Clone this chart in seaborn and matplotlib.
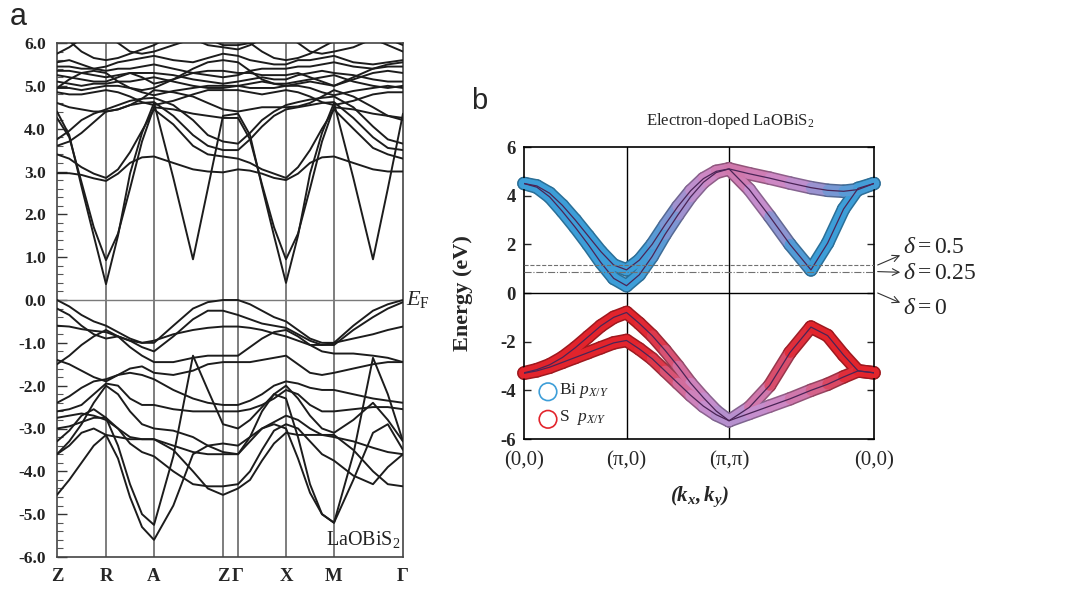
import numpy as np
import pandas as pd
import matplotlib
matplotlib.use("Agg")
import matplotlib.pyplot as plt
from matplotlib.collections import LineCollection
from matplotlib.colors import LinearSegmentedColormap
from matplotlib.ticker import MultipleLocator, FormatStrFormatter
import seaborn as sns

# ---------------- panel a: LaOBiS2, path Z-R-A-Z-Γ-X-M-Γ ----------------
path_a_labels = ["Z", "R", "A", "Z", "Γ", "X", "M", "Γ"]
path_a_k = [0, 49, 97, 166, 181, 229, 277, 346]
seg_fracs_a = [[0, .25, .5, .75], [0, .25, .5, .75], [0, .28, .565, .78], [0],
               [0, .25, .5, .75], [0, .25, .5, .75], [0, .28, .565, .78]]

# energies (eV) at the sampled k points, one row per band
cond_bands = [
    [4.40, 3.85, 2.65, 1.50, 0.37, 1.50, 2.95, 3.90, 4.60, 2.85, 0.95, 2.60, 4.30,
     4.35, 3.85, 2.65, 1.50, 0.40, 1.50, 2.95, 3.90, 4.60, 2.85, 0.95, 2.60, 4.35],
    [4.25, 3.80, 2.75, 1.70, 0.93, 1.55, 2.60, 3.70, 4.50, 4.45, 4.35, 4.30, 4.25,
     4.25, 3.75, 2.70, 1.70, 0.95, 1.55, 2.60, 3.70, 4.50, 4.45, 4.35, 4.30, 4.25],
    [2.96, 2.96, 2.92, 2.84, 2.78, 2.95, 3.20, 3.33, 3.35, 3.20, 3.05, 3.00, 2.98,
     3.05, 3.02, 2.95, 2.85, 2.80, 2.95, 3.20, 3.33, 3.35, 3.20, 3.05, 3.00, 3.00],
    [3.40, 3.30, 3.10, 2.95, 2.85, 3.05, 3.45, 3.95, 4.45, 4.10, 3.60, 3.40, 3.35,
     3.30, 3.20, 3.05, 2.95, 2.85, 3.10, 3.50, 4.00, 4.45, 4.00, 3.55, 3.40, 3.30],
    [3.60, 3.70, 3.90, 4.15, 4.40, 4.45, 4.55, 4.60, 4.62, 4.30, 3.85, 3.60, 3.50,
     3.50, 3.75, 4.05, 4.30, 4.45, 4.50, 4.55, 4.60, 4.62, 4.25, 3.80, 3.55, 3.50],
    [3.75, 3.95, 4.20, 4.35, 4.45, 4.55, 4.65, 4.70, 4.72, 4.55, 4.20, 3.85, 3.70,
     3.65, 3.90, 4.20, 4.40, 4.55, 4.62, 4.68, 4.72, 4.75, 4.50, 4.05, 3.75, 3.65],
]

upper_bands = [
    [4.85, 4.80, 4.80, 4.85, 4.90, 4.85, 4.75, 4.62, 4.55, 4.65, 4.80, 4.90, 4.90,
     4.90, 4.85, 4.80, 4.85, 4.90, 4.85, 4.75, 4.62, 4.55, 4.65, 4.80, 4.85, 4.85],
    [4.95, 4.95, 4.90, 4.95, 5.00, 5.00, 4.95, 4.85, 4.78, 4.88, 4.95, 5.00, 5.00,
     5.00, 4.95, 4.95, 4.95, 5.00, 5.00, 4.95, 4.85, 4.78, 4.88, 4.95, 5.00, 4.95],
    [5.10, 5.05, 5.00, 5.05, 5.05, 5.10, 5.10, 5.15, 5.20, 5.10, 5.00, 4.95, 4.95,
     5.00, 5.05, 5.10, 5.05, 5.05, 5.10, 5.15, 5.20, 5.25, 5.10, 5.00, 4.95, 5.00],
    [5.25, 5.20, 5.15, 5.10, 5.10, 5.20, 5.30, 5.30, 5.30, 5.25, 5.15, 5.10, 5.05,
     5.10, 5.15, 5.20, 5.15, 5.15, 5.25, 5.30, 5.35, 5.30, 5.25, 5.15, 5.10, 5.10],
    [5.35, 5.35, 5.30, 5.25, 5.20, 5.25, 5.30, 5.20, 5.05, 5.15, 5.30, 5.35, 5.35,
     5.30, 5.30, 5.25, 5.25, 5.25, 5.30, 5.20, 5.10, 5.00, 5.15, 5.30, 5.35, 5.30],
    [5.45, 5.45, 5.40, 5.40, 5.35, 5.40, 5.40, 5.45, 5.50, 5.40, 5.30, 5.25, 5.20,
     5.25, 5.35, 5.40, 5.40, 5.40, 5.45, 5.45, 5.50, 5.55, 5.45, 5.40, 5.45, 5.45],
    [4.60, 4.50, 4.45, 4.40, 4.40, 4.45, 4.55, 4.70, 4.90, 4.85, 4.75, 4.60, 4.45,
     4.40, 4.45, 4.50, 4.50, 4.50, 4.52, 4.60, 4.75, 4.90, 4.75, 4.50, 4.30, 4.20],
    [5.75, 5.90, 6.10, 6.20, 6.20, 6.00, 5.80, 5.75, 5.80, 5.95, 6.10, 5.95, 5.90,
     5.85, 5.95, 6.10, 6.20, 6.20, 6.00, 5.80, 5.75, 5.80, 5.90, 6.10, 5.95, 5.80],
    [6.30, 6.05, 5.80, 5.65, 5.60, 5.65, 5.75, 5.85, 5.95, 6.20, 6.30, 6.10, 5.95,
     5.95, 6.00, 5.80, 5.65, 5.60, 5.65, 5.75, 5.90, 6.05, 6.30, 6.30, 6.10, 5.95],
    [4.95, 5.15, 5.30, 5.35, 5.30, 5.10, 4.95, 4.90, 4.95, 5.15, 5.40, 5.55, 5.60,
     5.55, 5.35, 5.15, 5.05, 5.00, 5.05, 5.10, 5.05, 5.00, 5.20, 5.40, 5.50, 5.55],
    [5.55, 5.60, 5.50, 5.40, 5.45, 5.55, 5.60, 5.65, 5.70, 5.60, 5.55, 5.65, 5.75,
     5.70, 5.60, 5.55, 5.50, 5.50, 5.60, 5.60, 5.65, 5.70, 5.55, 5.50, 5.55, 5.60],
]

valence_bands = [
    [0.00, -0.15, -0.35, -0.50, -0.60, -0.75, -0.90, -1.00, -1.00, -0.60, -0.20, -0.05, 0.00,
     0.00, -0.10, -0.25, -0.40, -0.50, -0.70, -0.90, -1.00, -1.00, -0.60, -0.25, -0.10, 0.00],
    [-0.20, -0.35, -0.60, -0.80, -0.90, -0.85, -0.95, -1.10, -1.20, -0.85, -0.45, -0.25, -0.25,
     -0.35, -0.45, -0.55, -0.60, -0.65, -0.80, -0.95, -1.05, -1.05, -0.70, -0.40, -0.20, -0.05],
    [-0.60, -0.62, -0.68, -0.72, -0.75, -0.85, -0.95, -1.00, -0.95, -0.80, -0.70, -0.65, -0.62,
     -0.62, -0.65, -0.70, -0.78, -0.85, -0.95, -1.05, -1.05, -1.00, -0.90, -0.80, -0.70, -0.62],
    [-1.40, -1.50, -1.65, -1.80, -1.90, -1.75, -1.60, -1.55, -1.70, -1.75, -1.65, -1.50, -1.45,
     -1.45, -1.45, -1.40, -1.35, -1.30, -1.50, -1.70, -1.75, -1.70, -1.60, -1.50, -1.45, -1.45],
    [-1.50, -1.30, -1.05, -0.85, -0.70, -0.85, -1.10, -1.30, -1.45, -1.45, -1.35, -1.30, -1.30,
     -1.30, -1.10, -0.90, -0.75, -0.70, -0.85, -1.05, -1.20, -1.25, -1.25, -1.30, -1.35, -1.45],
    [-2.40, -2.25, -2.05, -1.90, -1.85, -1.75, -1.70, -1.75, -1.85, -2.10, -2.30, -2.40, -2.45,
     -2.45, -2.35, -2.20, -2.00, -1.90, -1.95, -2.05, -2.10, -2.10, -2.20, -2.30, -2.35, -2.40],
    [-2.60, -2.55, -2.45, -2.20, -1.95, -2.00, -2.30, -2.45, -2.45, -2.55, -2.60, -2.60, -2.60,
     -2.60, -2.55, -2.45, -2.30, -2.10, -2.20, -2.45, -2.60, -2.60, -2.55, -2.50, -2.50, -2.55],
    [-2.75, -2.70, -2.65, -2.70, -2.80, -3.00, -3.20, -3.25, -3.25, -3.40, -3.55, -3.60, -3.60,
     -3.60, -3.30, -3.00, -2.85, -2.70, -2.80, -3.00, -3.15, -3.20, -3.30, -3.45, -3.55, -3.60],
    [-3.30, -3.05, -2.70, -2.55, -2.75, -3.40, -4.30, -5.00, -5.25, -3.65, -1.30, -2.10, -2.90,
     -3.00, -2.80, -2.50, -2.20, -2.30, -3.20, -4.30, -5.00, -5.20, -3.60, -1.35, -2.20, -3.30],
    [-3.60, -3.40, -3.10, -3.00, -3.15, -3.70, -4.60, -5.30, -5.60, -4.80, -3.60, -3.40, -3.35,
     -3.40, -3.20, -3.00, -2.90, -3.00, -3.70, -4.50, -5.00, -5.20, -4.20, -3.10, -2.90, -3.50],
    [-4.55, -4.20, -3.80, -3.40, -3.15, -3.20, -3.25, -3.25, -3.25, -3.50, -4.00, -4.40, -4.55,
     -4.40, -4.20, -3.75, -3.35, -3.10, -3.15, -3.15, -3.15, -3.15, -3.50, -4.00, -4.30, -4.35],
    [-3.00, -2.95, -2.85, -2.75, -2.75, -3.00, -3.35, -3.55, -3.65, -4.00, -4.30, -4.35, -4.35,
     -4.30, -4.00, -3.50, -3.05, -2.90, -3.00, -3.30, -3.60, -3.75, -4.10, -4.30, -3.90, -3.60],
    [-3.60, -3.30, -2.90, -2.40, -2.00, -2.20, -2.60, -2.90, -3.00, -3.05, -3.20, -3.40, -3.55,
     -3.60, -3.20, -2.60, -2.20, -2.00, -2.30, -2.70, -3.00, -3.10, -2.80, -2.40, -2.80, -3.30],
]

# ---------------- panel b: electron-doped LaOBiS2 model bands ----------------
path_b_labels = ["(0,0)", "(π,0)", "(π,π)", "(0,0)"]
path_b_k = [0.0, 1.0, 2.0, 2.0 + np.sqrt(2.0)]
seg_fracs_b = [[0, .125, .25, .375, .5, .625, .75, .875],
               [0, .125, .25, .375, .5, .625, .75, .875],
               [0, .14, .28, .42, .565, .68, .79, .89]]

cond_1 = [4.50, 4.35, 3.95, 3.35, 2.70, 2.00, 1.25, 0.60,
          0.30, 0.75, 1.50, 2.40, 3.20, 3.95, 4.55, 4.95,
          5.10, 4.25, 3.15, 2.00, 0.95, 2.05, 3.45, 4.30, 4.50]
cond_2 = [4.50, 4.40, 4.10, 3.60, 3.00, 2.35, 1.70, 1.15,
          0.95, 1.35, 2.00, 2.80, 3.55, 4.20, 4.70, 5.00,
          5.10, 4.90, 4.72, 4.52, 4.33, 4.22, 4.18, 4.25, 4.50]
val_1 = [-3.28, -3.15, -2.95, -2.65, -2.25, -1.80, -1.35, -1.00,
         -0.80, -1.25, -1.75, -2.35, -3.00, -3.70, -4.30, -4.85,
         -5.25, -4.70, -3.80, -2.45, -1.40, -1.75, -2.55, -3.20, -3.28]
val_2 = [-3.30, -3.20, -3.05, -2.85, -2.65, -2.45, -2.25, -2.05,
         -1.95, -2.30, -2.70, -3.20, -3.70, -4.20, -4.65, -5.00,
         -5.25, -4.95, -4.65, -4.35, -4.00, -3.75, -3.45, -3.20, -3.28]

# Bi p_X/Y weight of each band (1 = Bi, 0 = S)
cond_1_bi = [1, 1, 1, 1, 1, 1, 1, 1, 1, 1, .95, .85, .7, .6, .5, .45,
             .4, .45, .6, .85, 1, 1, 1, 1, 1]
cond_2_bi = [1, 1, 1, 1, 1, 1, 1, 1, 1, 1, .95, .85, .7, .6, .5, .45,
             .4, .4, .45, .5, .6, .75, .85, .95, 1]
val_1_bi = [0, 0, 0, 0, 0, 0, 0, 0, 0, 0, .05, .15, .3, .4, .5, .55,
            .6, .5, .3, .1, 0, 0, 0, 0, 0]
val_2_bi = [0, 0, 0, 0, 0, 0, 0, 0, 0, 0, .05, .15, .3, .4, .5, .55,
            .6, .55, .5, .45, .35, .25, .1, 0, 0]

doping_levels = [("0.5", 1.15, "--"), ("0.25", 0.88, "-.")]
doping_labels = [r"$\delta = 0.5$", r"$\delta = 0.25$", r"$\delta = 0$"]


def path_grid(points, fracs):
    ks = []
    for i, fr in enumerate(fracs):
        a, b = points[i], points[i + 1]
        ks.extend(a + f * (b - a) for f in fr)
    ks.append(points[-1])
    return np.array(ks)


def long_frame(k, bands, prefix):
    rows = []
    for j, e in enumerate(bands):
        rows.append(pd.DataFrame({"k": k, "E": e, "band": f"{prefix}{j}"}))
    return pd.concat(rows, ignore_index=True)


sns.set_theme(style="white")
plt.rcParams["font.family"] = ["Liberation Serif", "DejaVu Serif"]
plt.rcParams["mathtext.fontset"] = "custom"
plt.rcParams["mathtext.rm"] = "Liberation Serif"
plt.rcParams["mathtext.it"] = "Liberation Serif:italic"
plt.rcParams["mathtext.bf"] = "Liberation Serif:italic:bold"

fig = plt.figure(figsize=(10.73, 5.92), dpi=100)
W, H = 1073, 592
ax_a = fig.add_axes([57 / W, 1 - 557 / H, (403 - 57) / W, (557 - 43) / H])
ax_b = fig.add_axes([524 / W, 1 - 439 / H, (874 - 524) / W, (439 - 147) / H])

# ---- panel a ----
k_a = path_grid(path_a_k, seg_fracs_a)
df_a = pd.concat([long_frame(k_a, cond_bands, "c"),
                  long_frame(k_a, upper_bands, "u"),
                  long_frame(k_a, valence_bands, "v")], ignore_index=True)
for kk in path_a_k[1:-1]:
    ax_a.axvline(kk, color="#5a5a5a", lw=1.1, zorder=1)
ax_a.axhline(0, color="#7a7a7a", lw=1.0, zorder=1)
sns.lineplot(data=df_a, x="k", y="E", units="band", estimator=None, sort=False,
             color="#1c1c1c", lw=1.4, ax=ax_a, legend=False, zorder=3)
ax_a.set_xlim(path_a_k[0], path_a_k[-1])
ax_a.set_ylim(-6, 6)
ax_a.set_xlabel("")
ax_a.set_ylabel("")
ax_a.set_xticks(path_a_k)
ax_a.set_xticklabels(path_a_labels, fontsize=13.5, fontweight="bold")
ax_a.set_yticks(np.arange(-6, 6.01, 1.0))
ax_a.yaxis.set_major_formatter(FormatStrFormatter("%.1f"))
ax_a.yaxis.set_minor_locator(MultipleLocator(0.2))
for lab in ax_a.get_yticklabels():
    lab.set_fontweight("bold")
    lab.set_fontsize(12.5)
ax_a.tick_params(axis="x", length=0, pad=8)
ax_a.tick_params(axis="y", which="major", direction="in", length=7, width=1,
                 left=True, pad=8, colors="#333333", labelcolor="#222222")
ax_a.tick_params(axis="y", which="minor", direction="in", length=4, width=0.8,
                 left=True, colors="#555555")
for sp in ax_a.spines.values():
    sp.set_color("#444444")
    sp.set_linewidth(1.2)
ax_a.text(306, -5.6, r"LaOBiS$_2$", fontsize=14.5, ha="center", va="center", color="#222222")
ax_a.text(1.008, 0.0, r"$E_{\rm F}$", transform=ax_a.get_yaxis_transform(),
          fontsize=16, ha="left", va="center", clip_on=False)
fig.text(18 / W, 1 - 17 / H, "a", family=["Liberation Sans", "DejaVu Sans"],
         fontsize=22, ha="center", va="center")

# ---- panel b ----
k_b = path_grid(path_b_k, seg_fracs_b)
cmap = LinearSegmentedColormap.from_list(
    "orbital", ["#e2242c", "#cc8dcc", "#3d9ed8"])

fat = [(cond_1, cond_1_bi), (cond_2, cond_2_bi), (val_1, val_1_bi), (val_2, val_2_bi)]
edge_cols, fill_cols, all_segs = [], [], []
for e, w in fat:
    pts = np.column_stack([k_b, e])
    segs = np.stack([pts[:-1], pts[1:]], axis=1)
    w = np.asarray(w, dtype=float)
    cols = cmap(0.5 * (w[:-1] + w[1:]))
    edge = cols.copy()
    edge[:, :3] *= 0.7
    all_segs.append(segs)
    edge_cols.append(edge)
    fill_cols.append(cols)
for segs, edge in zip(all_segs, edge_cols):
    ax_b.add_collection(LineCollection(segs, colors=edge, linewidths=9.8,
                                       capstyle="round", joinstyle="round",
                                       zorder=2, clip_on=False))
for segs, cols in zip(all_segs, fill_cols):
    ax_b.add_collection(LineCollection(segs, colors=cols, linewidths=7.6,
                                       capstyle="round", joinstyle="round",
                                       zorder=3, clip_on=False))

df_b = long_frame(k_b, [cond_1, cond_2, val_1, val_2], "b")
sns.lineplot(data=df_b, x="k", y="E", units="band", estimator=None, sort=False,
             color="#4a2456", lw=0.9, ax=ax_b, legend=False, zorder=4)

for kk in path_b_k[1:-1]:
    ax_b.axvline(kk, color="black", lw=1.0, zorder=1)
ax_b.axhline(0, color="black", lw=1.0, zorder=1)
for _, lvl, ls in doping_levels:
    ax_b.axhline(lvl, color="#707070", lw=0.8, ls=ls, zorder=5)

ax_b.set_xlim(path_b_k[0], path_b_k[-1])
ax_b.set_ylim(-6, 6)
ax_b.set_xticks(path_b_k)
ax_b.set_xticklabels(path_b_labels, fontsize=15)
ax_b.set_yticks(np.arange(-6, 6.01, 2))
ax_b.set_yticklabels([f"{v:d}" for v in range(-6, 7, 2)], fontsize=13.5, fontweight="bold")
ax_b.tick_params(axis="x", length=0, pad=9)
ax_b.tick_params(axis="y", direction="in", length=5, width=1, left=True, right=True, pad=6)
for sp in ax_b.spines.values():
    sp.set_color("black")
    sp.set_linewidth(1.2)
ax_b.set_ylabel("Energy (eV)", fontsize=16, fontweight="bold")
ax_b.yaxis.set_label_coords(-0.145, 0.5)
ax_b.set_xlabel(r"$\mathbf{(k_x,k_y)}$", fontsize=15, labelpad=10)
fig.text(730 / W, 1 - 121 / H, r"Electron-doped LaOBiS$_2$", fontsize=12,
         ha="center", va="center")
fig.text(479 / W, 1 - 101 / H, "b", family=["Liberation Sans", "DejaVu Sans"],
         fontsize=21, ha="center", va="center")

# orbital legend
ax_b.scatter([0.234, 0.234], [-4.06, -5.19], s=160, facecolors="none",
             edgecolors=["#3d9ed8", "#e2242c"], linewidths=1.2, zorder=6)
ax_b.text(0.34, -4.0, r"Bi $p_{X/Y}$", fontsize=12.5, va="center", zorder=6)
ax_b.text(0.34, -5.13, r"S  $p_{X/Y}$", fontsize=12.5, va="center", zorder=6)

# doping-level arrows and labels
arrow_ends = [((3.45, 1.15), (3.67, 1.55)),
              ((3.45, 0.88), (3.67, 0.85)),
              ((3.45, 0.0), (3.67, -0.40))]
label_y = [1.85, 0.80, -0.62]
for (start, end), ty, txt in zip(arrow_ends, label_y, doping_labels):
    ax_b.annotate("", xy=end, xytext=start, annotation_clip=False,
                  arrowprops=dict(arrowstyle="->", lw=0.8, color="#333333",
                                  shrinkA=0, shrinkB=0))
    ax_b.text(3.70, ty, txt, fontsize=17, ha="left", va="center", clip_on=False)

fig.savefig("out.png", dpi=100)
